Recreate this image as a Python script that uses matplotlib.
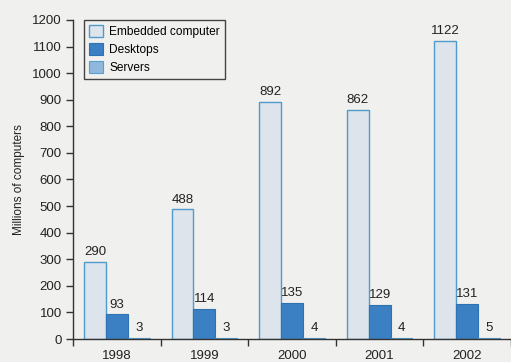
import matplotlib.pyplot as plt
import numpy as np

# data
years = ["1998", "1999", "2000", "2001", "2002"]
embedded = [290, 488, 892, 862, 1122]
desktops = [93, 114, 135, 129, 131]
servers = [3, 3, 4, 4, 5]

plt.rcParams['font.family'] = ['Liberation Sans', 'DejaVu Sans']

bg = '#f0f0ee'
fig = plt.figure(figsize=(5.11, 3.62), dpi=100, facecolor=bg)
ax = fig.add_axes([73/511, 23/362, 438/511, 319/362], facecolor=bg)

x = np.arange(len(years))
w = 0.25
b1 = ax.bar(x + 0.25, embedded, w, color='#dde4eb', edgecolor='#4f9bcb', linewidth=1.0, label='Embedded computer')
b2 = ax.bar(x + 0.5, desktops, w, color='#3a80c2', edgecolor='#2f72b2', linewidth=0.8, label='Desktops')
b3 = ax.bar(x + 0.75, servers, w, color='#8fb8dc', edgecolor='#5a9fcc', linewidth=0.8, label='Servers')

# value labels
for bars, vals in [(b1, embedded), (b2, desktops), (b3, servers)]:
    for r, v in zip(bars, vals):
        ax.text(r.get_x() + r.get_width()/2, v + 14, str(v), ha='center', va='bottom',
                fontsize=9.5, color='#222222')

ax.set_xlim(0, 438/89)
ax.set_ylim(0, 1200)
ax.set_yticks(range(0, 1201, 100))
ax.set_xticks(np.arange(0, 6))
ax.set_xticklabels([])
ax.set_xticks(x + 0.5, minor=True)
ax.set_xticklabels(years, minor=True)
ax.tick_params(axis='x', which='minor', length=0, pad=8, labelsize=9.5, colors='#222222')
ax.tick_params(axis='x', which='major', length=5, width=1, color='#333333', direction='out')
ax.tick_params(axis='y', length=5, width=1, color='#333333', labelsize=9.5, labelcolor='#222222', pad=3)

for s in ['top', 'right']:
    ax.spines[s].set_visible(False)
for s in ['left', 'bottom']:
    ax.spines[s].set_color('#333333')
    ax.spines[s].set_linewidth(1)

ax.set_ylabel('Millions of computers', fontsize=8.5, color='#222222', labelpad=5)

leg = ax.legend(loc='upper left', bbox_to_anchor=(11/438, 1.0), borderaxespad=0,
                fontsize=8.6, frameon=True, fancybox=False, edgecolor='#444444',
                facecolor=bg, framealpha=1, handlelength=1.15, handleheight=1.15,
                handletextpad=0.5, borderpad=0.45, labelspacing=0.4)
leg.get_frame().set_linewidth(1)

fig.savefig('out.png', dpi=100, facecolor=bg)
